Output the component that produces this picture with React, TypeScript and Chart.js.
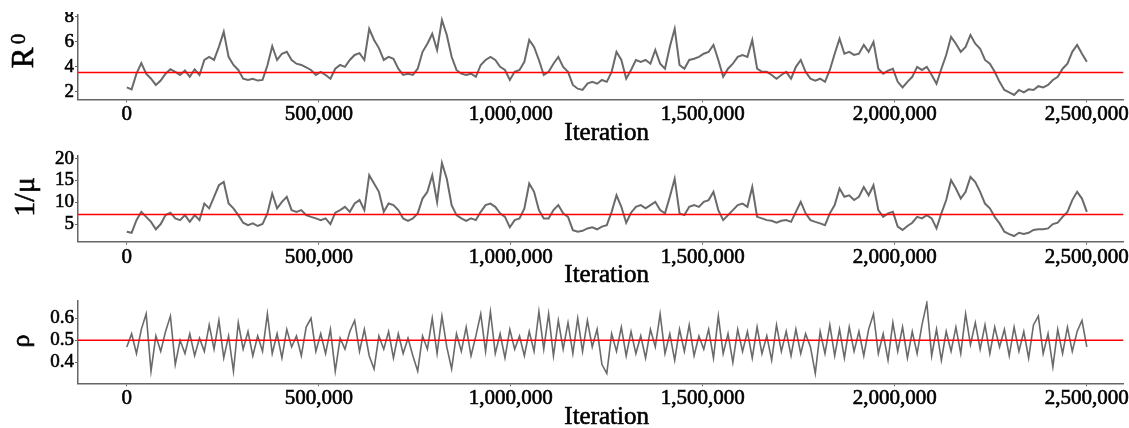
import React, { useEffect, useRef } from "react";
import { Chart, registerables } from "chart.js";

Chart.register(...registerables);

// ---------------- data ----------------
const N_POINTS = 199;
const LAST_ITERATION = 2500000;
const ITERATIONS: number[] = Array.from({ length: N_POINTS }, (_, i) =>
  Math.round((i * LAST_ITERATION) / (N_POINTS - 1))
);
const X_TICKS = [0, 500000, 1000000, 1500000, 2000000, 2500000];
const X_MIN = -127000;
const X_MAX = 2595000;

const R0_VALUES = [
  2.35, 2.2, 3.45, 4.3, 3.45, 3.05, 2.55, 2.9, 3.45, 3.8,
  3.6, 3.35, 3.7, 3.2, 3.8, 3.35, 4.55, 4.8, 4.55, 5.6,
  6.8, 4.8, 4.15, 3.75, 3.05, 2.95, 3.05, 2.9, 2.95, 4.1,
  5.65, 4.55, 5.05, 5.2, 4.55, 4.25, 4.15, 3.95, 3.75, 3.35,
  3.6, 3.35, 3.05, 3.85, 4.15, 4.0, 4.55, 4.95, 5.1, 4.55,
  7.05, 6.15, 5.5, 4.55, 4.8, 4.65, 3.85, 3.35, 3.45, 3.35,
  3.85, 5.2, 5.85, 6.65, 5.35, 7.75, 6.55, 4.8, 3.75, 3.45,
  3.35, 3.45, 3.2, 4.15, 4.55, 4.8, 4.55, 4.0, 3.75, 2.95,
  3.6, 3.75, 4.4, 6.15, 5.6, 4.55, 3.35, 3.6, 4.25, 4.8,
  4.0, 3.6, 2.55, 2.25, 2.15, 2.65, 2.8, 2.65, 2.95,
  2.8, 3.6, 5.2, 4.55, 3.05, 3.75, 4.55, 4.4, 4.55, 4.25, 5.35,
  4.25, 3.85, 5.6, 7.05, 4.15, 3.85, 4.55, 4.65, 4.8, 5.05,
  5.2, 5.75, 4.55, 3.2, 3.85, 4.25, 4.8, 4.95, 4.8, 6.15,
  3.85, 3.6, 3.6, 3.35, 3.05, 3.35, 3.6, 3.05, 4.0, 4.55,
  3.6, 3.05, 2.9, 3.05, 2.8, 3.75, 5.05, 6.25, 5.05, 5.2,
  4.95, 5.05, 5.75, 5.2, 6.0, 3.85, 3.45, 3.7, 3.85, 2.8,
  2.35, 2.8, 3.2, 4.0, 3.75, 4.0, 3.35, 2.65, 3.85, 4.95,
  6.4, 5.85, 5.2, 5.6, 6.55, 5.85, 5.45, 4.55, 4.25, 3.6,
  2.8, 2.15, 1.95, 1.75, 2.15, 1.95, 2.2, 2.15, 2.45, 2.35,
  2.55, 2.95, 3.2, 3.85, 4.25, 5.2, 5.75, 5.05, 4.4,
];

const INV_MU_VALUES = [
  3.25, 3.0, 5.9, 7.8, 6.65, 5.5, 3.8, 5.0, 7.05, 7.6,
  6.3, 5.9, 7.05, 5.5, 7.05, 5.9, 9.7, 8.6, 11.25, 13.9,
  14.65, 9.7, 8.6, 7.05, 5.3, 4.75, 5.15, 4.55, 5.0, 7.45,
  12.0, 8.6, 10.1, 11.25, 8.2, 7.8, 8.2, 7.05, 6.65, 6.3,
  5.9, 6.3, 5.0, 7.6, 8.2, 8.95, 7.8, 9.7, 10.5, 8.2,
  16.2, 14.3, 12.4, 7.8, 9.7, 9.35, 8.2, 6.3, 5.75, 6.3,
  7.45, 10.85, 12.4, 16.2, 10.1, 19.0, 15.4, 9.35, 7.05, 6.3,
  5.75, 6.3, 5.9, 7.8, 9.35, 9.7, 8.95, 7.45, 6.65, 4.25,
  5.9, 6.3, 8.6, 14.3, 12.4, 8.2, 6.3, 6.3, 8.2, 9.35,
  7.45, 6.65, 3.6, 3.25, 3.45, 4.0, 4.25, 3.8, 4.4,
  4.75, 7.8, 11.6, 8.95, 5.3, 7.6, 8.95, 9.35, 8.6, 9.35, 10.1,
  8.2, 7.45, 11.25, 15.4, 7.45, 7.05, 8.95, 9.35, 8.95, 10.1,
  10.5, 12.4, 8.2, 5.9, 7.05, 8.2, 9.35, 9.7, 8.95, 13.5,
  6.65, 6.3, 5.9, 5.75, 5.3, 5.75, 5.9, 5.5, 7.8, 10.1,
  7.45, 5.9, 5.5, 5.15, 4.75, 7.45, 9.35, 13.15, 11.25, 11.6,
  10.5, 11.25, 13.5, 11.6, 13.9, 8.2, 6.65, 7.45, 7.8, 4.4,
  3.65, 4.55, 5.3, 6.65, 6.3, 7.05, 6.3, 4.0, 7.45, 10.5,
  15.05, 13.15, 10.85, 12.4, 15.8, 14.65, 12.4, 9.7, 8.6, 6.65,
  5.15, 3.25, 2.7, 2.25, 3.0, 2.7, 3.0, 3.65, 3.8, 3.8,
  4.0, 5.0, 5.3, 6.65, 7.8, 10.5, 12.4, 10.85, 7.8,
];

const RHO_VALUES = [
  0.47, 0.53, 0.44, 0.55, 0.62, 0.36, 0.52, 0.45, 0.54, 0.61,
  0.39, 0.5, 0.44, 0.53, 0.43, 0.51, 0.45, 0.57, 0.46, 0.59,
  0.42, 0.52, 0.36, 0.58, 0.46, 0.54, 0.43, 0.52, 0.45, 0.62,
  0.44, 0.53, 0.42, 0.55, 0.47, 0.52, 0.43, 0.56, 0.6, 0.45,
  0.53, 0.44, 0.55, 0.36, 0.51, 0.46, 0.54, 0.59, 0.45, 0.55,
  0.43, 0.37, 0.52, 0.46, 0.54, 0.42, 0.53, 0.44, 0.51, 0.43,
  0.36, 0.52, 0.46, 0.6, 0.44, 0.61, 0.47, 0.37, 0.53, 0.45,
  0.56, 0.43, 0.52, 0.62, 0.45, 0.63, 0.44, 0.53, 0.42, 0.55,
  0.46, 0.52, 0.43, 0.54, 0.45, 0.63, 0.46, 0.62, 0.43, 0.59,
  0.46, 0.58, 0.44, 0.6, 0.45, 0.59, 0.47, 0.55, 0.39, 0.35,
  0.53, 0.45, 0.56, 0.43, 0.54, 0.44, 0.52, 0.42, 0.55, 0.47,
  0.62, 0.44, 0.53, 0.41, 0.55, 0.45, 0.57, 0.43, 0.52, 0.46,
  0.55, 0.42, 0.61, 0.44, 0.53, 0.4, 0.55, 0.45, 0.54, 0.42,
  0.56, 0.44, 0.52, 0.41, 0.57, 0.45, 0.54, 0.43, 0.55, 0.44,
  0.53, 0.47, 0.35, 0.54, 0.44, 0.57, 0.43, 0.55, 0.42, 0.56,
  0.45, 0.54, 0.43, 0.55, 0.62, 0.44, 0.53, 0.41, 0.58, 0.45,
  0.56, 0.42, 0.54, 0.44, 0.57, 0.67, 0.43, 0.55, 0.41, 0.54,
  0.45, 0.56, 0.44, 0.62, 0.48, 0.58, 0.46, 0.57, 0.44, 0.56,
  0.47, 0.55, 0.43, 0.56, 0.45, 0.54, 0.42, 0.57, 0.61, 0.44,
  0.53, 0.38, 0.55, 0.44, 0.56, 0.45, 0.54, 0.59, 0.47,
];

const R0_TICKS = [2, 4, 6, 8];
const INV_MU_TICKS = [5, 10, 15, 20];
const RHO_TICKS = [0.4, 0.5, 0.6];

const R0_REFERENCE = 3.55;
const INV_MU_REFERENCE = 7.2;
const RHO_REFERENCE = 0.5;

const X_TITLE = "Iteration";

// ---------------- styling ----------------
const FONT = '"Liberation Serif", "DejaVu Serif", serif';
const TEXT_COLOR = "#000";
const AXIS_COLOR = "#666";
const TRACE_COLOR = "#6a6a6a";
const REF_COLOR = "#ff0000";
const WIDTH = 1129;

type YTitle = { main: string; sub?: string; x: number; y: number; size: number; subSize?: number; subDx?: number; subDy?: number };

type Panel = {
  values: number[];
  yTicks: number[];
  ref: number;
  yMin: number;
  yMax: number;
  top: number;
  height: number;
  padTop: number;
  xHeight: number;
  clipTop: number;
  lineWidth: number;
  xTitleBaseline: number;
  yTitle: YTitle;
  tickFmt: (v: number) => string;
};

const PANELS: Panel[] = [
  {
    values: R0_VALUES, yTicks: R0_TICKS, ref: R0_REFERENCE, yMin: 1.4, yMax: 8.15,
    top: 0, height: 143, padTop: 15, xHeight: 43.7, clipTop: 12, lineWidth: 2, xTitleBaseline: 140,
    yTitle: { main: "R", sub: "0", x: 33, y: 58, size: 31, subSize: 21, subDx: 19, subDy: -8 },
    tickFmt: (v) => String(v),
  },
  {
    values: INV_MU_VALUES, yTicks: INV_MU_TICKS, ref: INV_MU_REFERENCE, yMin: 0.95, yMax: 20.75,
    top: 143, height: 142, padTop: 12, xHeight: 43.3, clipTop: 0, lineWidth: 2, xTitleBaseline: 139,
    yTitle: { main: "1/\u03bc", x: 34, y: 54, size: 30 },
    tickFmt: (v) => String(v),
  },
  {
    values: RHO_VALUES, yTicks: RHO_TICKS, ref: RHO_REFERENCE, yMin: 0.305, yMax: 0.68,
    top: 285, height: 143, padTop: 15.7, xHeight: 44.7, clipTop: 0, lineWidth: 1.6, xTitleBaseline: 139,
    yTitle: { main: "\u03c1", x: 28.5, y: 56, size: 26 },
    tickFmt: (v) => v.toFixed(1),
  },
];

const extrasPlugin = {
  id: "traceExtras",
  afterDatasetsDraw(chart: any, _args: any, opts: any) {
    const { ctx, chartArea, scales } = chart;
    const y = scales.y.getPixelForValue(opts.ref);
    ctx.save();
    ctx.strokeStyle = REF_COLOR;
    ctx.lineWidth = 1.5;
    ctx.beginPath();
    ctx.moveTo(chartArea.left, y);
    ctx.lineTo(chartArea.right, y);
    ctx.stroke();
    ctx.restore();
  },
  afterDraw(chart: any, _args: any, opts: any) {
    const { ctx, chartArea } = chart;
    const t: YTitle = opts.yTitle;
    ctx.save();
    ctx.fillStyle = TEXT_COLOR;
    ctx.strokeStyle = TEXT_COLOR;
    ctx.lineWidth = 0.6;
    ctx.textBaseline = "alphabetic";
    ctx.textAlign = "center";
    // x-axis title
    ctx.font = `25px ${FONT}`;
    const cx = (chartArea.left + chartArea.right) / 2 + 6;
    ctx.fillText(opts.xTitle, cx, opts.xTitleBaseline);
    ctx.strokeText(opts.xTitle, cx, opts.xTitleBaseline);
    // y-axis title
    ctx.translate(t.x, t.y);
    ctx.rotate(-Math.PI / 2);
    ctx.font = `${t.size}px ${FONT}`;
    ctx.fillText(t.main, 0, 0);
    ctx.strokeText(t.main, 0, 0);
    if (t.sub) {
      ctx.font = `${t.subSize}px ${FONT}`;
      ctx.fillText(t.sub, t.subDx || 0, t.subDy || 0);
      ctx.strokeText(t.sub, t.subDx || 0, t.subDy || 0);
    }
    ctx.restore();
    if (opts.clipTop > 0) ctx.clearRect(0, 0, chart.width, opts.clipTop);
  },
};

function TracePanel({ panel }: { panel: Panel }) {
  const ref = useRef<HTMLCanvasElement | null>(null);
  useEffect(() => {
    if (!ref.current) return;
    const data = ITERATIONS.map((it, i) => ({ x: it, y: panel.values[i] }));
    const chart = new Chart(ref.current, {
      type: "line",
      data: {
        datasets: [
          {
            data,
            borderColor: TRACE_COLOR,
            borderWidth: panel.lineWidth,
            pointRadius: 0,
            tension: 0,
            fill: false,
          },
        ],
      },
      plugins: [extrasPlugin as any],
      options: {
        animation: false,
        responsive: false,
        maintainAspectRatio: false,
        devicePixelRatio: 1,
        layout: { padding: { top: panel.padTop, right: 5, left: 0, bottom: 0 } },
        plugins: {
          legend: { display: false },
          tooltip: { enabled: false },
          traceExtras: {
            ref: panel.ref,
            yTitle: panel.yTitle,
            clipTop: panel.clipTop,
            xTitle: X_TITLE,
            xTitleBaseline: panel.xTitleBaseline,
          },
        } as any,
        scales: {
          x: {
            type: "linear",
            min: X_MIN,
            max: X_MAX,
            afterBuildTicks: (s: any) => {
              s.ticks = X_TICKS.map((v) => ({ value: v }));
            },
            afterFit: (s: any) => {
              s.height = panel.xHeight;
            },
            grid: { display: true, drawOnChartArea: false, drawTicks: true, tickLength: 3, tickColor: AXIS_COLOR },
            border: { display: true, color: AXIS_COLOR, width: 1.5 },
            ticks: {
              color: TEXT_COLOR,
              font: { family: FONT, size: 21 },
              textStrokeColor: TEXT_COLOR,
              textStrokeWidth: 0.6,
              padding: 0,
              maxRotation: 0,
              autoSkip: false,
              callback: (v: any) => Number(v).toLocaleString("en-US"),
            },
            title: { display: false },
          },
          y: {
            type: "linear",
            min: panel.yMin,
            max: panel.yMax,
            afterBuildTicks: (s: any) => {
              s.ticks = panel.yTicks.map((v) => ({ value: v }));
            },
            afterFit: (s: any) => {
              s.width = 78;
            },
            grid: { display: true, drawOnChartArea: false, drawTicks: true, tickLength: 3, tickColor: AXIS_COLOR },
            border: { display: true, color: AXIS_COLOR, width: 1.5 },
            ticks: {
              color: TEXT_COLOR,
              font: { family: FONT, size: 19 },
              textStrokeColor: TEXT_COLOR,
              textStrokeWidth: 0.6,
              padding: 1,
              autoSkip: false,
              callback: (v: any) => panel.tickFmt(Number(v)),
            },
          },
        },
      } as any,
    });
    return () => chart.destroy();
  }, [panel]);
  return (
    <canvas
      ref={ref}
      width={WIDTH}
      height={panel.height}
      style={{ position: "absolute", left: 0, top: panel.top, width: WIDTH, height: panel.height }}
    />
  );
}

export default function App() {
  return (
    <div style={{ position: "absolute", left: 0, top: 0, width: WIDTH, height: 428, background: "#fff" }}>
      {PANELS.map((p, i) => (
        <TracePanel key={i} panel={p} />
      ))}
    </div>
  );
}
